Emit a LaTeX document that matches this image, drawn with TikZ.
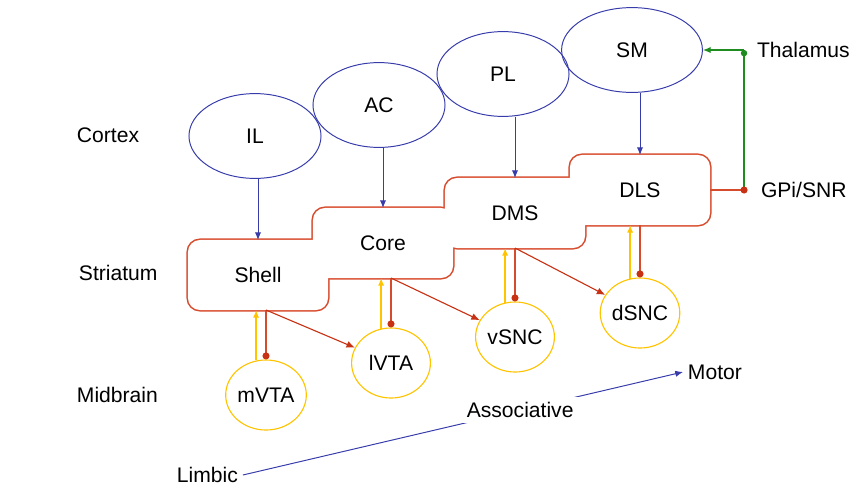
\documentclass[tikz,border=0pt]{standalone}
\usepackage{fontspec}
\setmainfont{Liberation Sans}
\usetikzlibrary{arrows.meta,shapes.geometric,backgrounds,positioning}

\definecolor{ctxblue}{RGB}{55,60,170}
\definecolor{strred}{RGB}{215,75,45}
\definecolor{dotred}{RGB}{200,50,20}
\definecolor{dayellow}{RGB}{255,195,0}
\definecolor{thalgreen}{RGB}{30,140,30}

\tikzset{
  cortex/.style={ellipse,draw=ctxblue,line width=0.7pt,minimum width=3.3cm,minimum height=2.12cm,inner sep=0pt},
  striatum/.style={rectangle,rounded corners=0.3cm,fill=white,minimum width=3.5cm,minimum height=1.75cm,inner sep=0pt,outer sep=0pt},
  midbrain/.style={ellipse,draw=dayellow,line width=0.8pt,minimum width=1.97cm,minimum height=1.75cm,inner sep=0pt},
  region/.style={anchor=west},
  glut/.style={draw=ctxblue,line width=0.7pt,-{Latex[length=5.5pt,width=4.5pt]}},
  dopa/.style={draw=dayellow,line width=1.4pt,-{Latex[length=5.5pt,width=4.5pt]}},
  gaba/.style={draw=strred,line width=0.9pt,-{Circle[length=5pt,color=dotred]}},
  proj/.style={draw=dotred,line width=0.8pt,-{Latex[length=6pt,width=5pt]}},
}

\begin{document}
\begin{tikzpicture}[x=0.025cm,y=-0.025cm,font=\fontsize{15}{18}\selectfont]
  \useasboundingbox (0,0) rectangle (853,487);

  % cortex
  \node[cortex]				(il)	at (255,136)	{IL};
  \node[cortex]				(ac)	at (379,105)	{AC};
  \node[cortex]				(pl)	at (503,74)	{PL};
  \node[cortex,minimum width=3.52cm]	(sm)	at (632,50)	{SM};

  % striatum
  \node[striatum]	(shell)	at (258,275)	{Shell};
  \node[striatum]	(core)	at (383,243)	{Core};
  \node[striatum]	(dms)	at (515,213)	{DMS};
  \node[striatum]	(dls)	at (640,190)	{DLS};
  \begin{scope}[on background layer]
    \foreach \b in {shell,core,dms,dls}
      \draw[strred,line width=2.2pt,rounded corners=0.3cm] (\b.south west) rectangle (\b.north east);
  \end{scope}

  % midbrain
  \node[midbrain]	(mvta)	at (266,395)	{mVTA};
  \node[midbrain]	(lvta)	at (391,363)	{lVTA};
  \node[midbrain]	(vsnc)	at (515,337)	{vSNC};
  \node[midbrain]	(dsnc)	at (640,313)	{dSNC};

  % levels
  \node[region]	(cortex)	at (72,135)	{Cortex};
  \node[region]	(striat)	at (74,273)	{Striatum};
  \node[region]	(midbr)	at (72,395)	{Midbrain};
  \node[region]	(limbic)	at (172,475)	{Limbic};
  \node[region]	(motor)	at (683,372)	{Motor};

  \coordinate[right=0.85cm of dls.east]	(gpidot);
  \coordinate				(thaldot)	at (gpidot |- sm.east);
  \node[right=0.2cm of thaldot,anchor=west]	(thal)	{Thalamus};
  \node[right=0.3cm of gpidot,anchor=west]	(gpi)	{GPi/SNR};

  \draw[glut] (il.south -| shell.north) -- (shell.north);
  \draw[glut] (ac.south -| core.north) -- (core.north);
  \draw[glut] (pl.south -| dms.north) -- (dms.north);
  \draw[glut] (sm.south -| dls.north) -- (dls.north);

  \foreach \b/\c in {shell/mvta,core/lvta,dms/vsnc,dls/dsnc}{
    \draw[dopa] (\c.106) -- (\c.106 |- \b.south);
    \draw[gaba] (\c.north |- \b.south) -- (\c.north);
  }
  \path
     (mvta.north |- shell.south)	edge[proj]	(lvta)
     (lvta.north |- core.south)	edge[proj]	(vsnc)
     (vsnc.north |- dms.south)	edge[proj]	(dsnc)
  ;

  \draw[thalgreen,line width=0.9pt,-{Circle[length=4.5pt]}] (gpidot) -- (thaldot);
  \draw[thalgreen,line width=0.9pt,-{Latex[length=5.5pt,width=4.5pt]}] (thaldot) -- (sm.east);
  \draw[gaba] (dls.east) -- ([xshift=2.5pt]gpidot);

  \draw[glut] (limbic.east) -- node[pos=0.63,fill=white,inner sep=4pt] (assoc) {Associative} (motor.west);
\end{tikzpicture}
\end{document}
